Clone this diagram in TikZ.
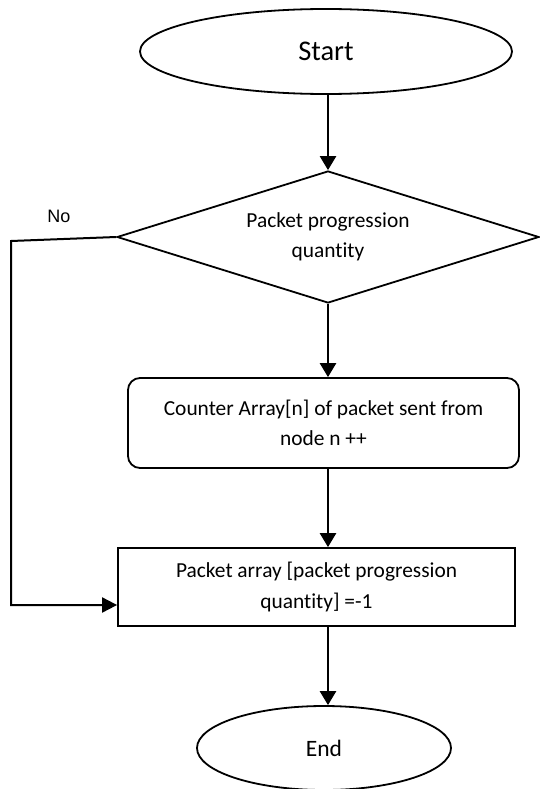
\documentclass[tikz,border=0pt]{standalone}
\usepackage{fontspec}
\setmainfont{Carlito}[Ligatures=NoCommon]
\newfontfamily\labelfont{Liberation Sans}
\usetikzlibrary{shapes.geometric,arrows.meta}

\begin{document}
\begin{tikzpicture}[x=1pt,y=-1pt,
  shapeline/.style={draw=black,line width=1.8pt},
  terminal/.style={shapeline,ellipse,inner sep=0pt},
  decision/.style={shapeline,diamond,inner sep=0pt,shape aspect=3.2,
    minimum width=422pt,minimum height=132pt},
  process/.style={shapeline,rectangle,inner sep=0pt},
  bodytext/.style={font=\fontsize{21.4}{30.5}\selectfont,align=center},
  flow/.style={draw=black,line width=2.5pt,
    -{Triangle[length=14pt,width=16pt]}},
  noflow/.style={draw=black,line width=2pt,line join=miter,
    -{Triangle[length=15pt,width=15pt]}}
]
\useasboundingbox (0,0) rectangle (540,789);

% terminals, decision and process boxes
\node[terminal,minimum width=372pt,minimum height=85pt,
      font=\fontsize{28.5}{30}\selectfont] (start) at (326,51.5) {Start};
\node[decision,bodytext] (dec) at (328,237) {Packet progression\\quantity};
\node[process,rounded corners=12pt,minimum width=391pt,minimum height=90pt,
      bodytext] (count) at (323.5,423) {Counter Array[n] of packet sent from\\node n ++};
\node[process,minimum width=397pt,minimum height=78pt,bodytext]
      (reset) at (316.5,587) {Packet array [packet progression\\quantity] =-1};
\node[terminal,minimum width=254pt,minimum height=84pt,
      font=\fontsize{23.5}{26}\selectfont] (stop) at (324,748) {End};

% main flow down the middle
\draw[flow] (dec.north |- start.south) -- (dec.north);
\draw[flow] (dec.south) -- (dec.south |- count.north);
\draw[flow] (dec.south |- count.south) -- (dec.south |- reset.north);
\draw[flow] (dec.south |- reset.south) -- (dec.south |- stop.north);

% "No" branch around the left side
\coordinate (nocorner) at (11,241);
\coordinate (noturn) at (11,605);
\draw[noflow] (dec.west) -- (nocorner) -- (noturn) -- (noturn -| reset.west);
\node[font=\labelfont\fontsize{18}{20}\selectfont] (nolabel) at (59,216) {No};
\end{tikzpicture}
\end{document}
